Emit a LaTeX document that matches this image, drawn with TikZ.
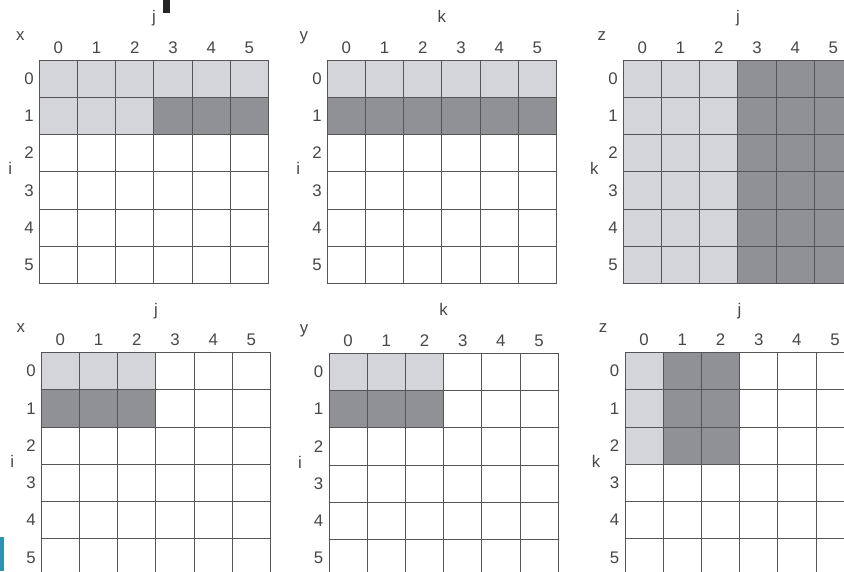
\documentclass[tikz,border=0pt]{standalone}
\usepackage{fontspec}
\setmainfont{Liberation Sans}
\definecolor{lightc}{HTML}{D3D5D8}
\definecolor{darkc}{HTML}{8F9195}
\definecolor{linec}{HTML}{555555}
\definecolor{textc}{HTML}{474747}
\definecolor{bluebar}{HTML}{2A93B8}
\tikzset{
  gridline/.style={draw=linec, line width=1.0pt},
  lab/.style={text=textc, font=\fontsize{16.8}{20}\selectfont, inner sep=0pt},
}
% #1 name, #2 ox, #3 oy, #4 corner letter, #5 corner dx, #6 top letter, #7 side letter, #8 fills
\newcommand\panel[8]{%
\begin{scope}[shift={(#2,#3)}]
\begin{scope}[x=38.2pt,y=-37.25pt]
  #8
  \foreach \i in {0,...,6} {
    \draw[gridline] (\i,0) -- (\i,6);
    \draw[gridline] (0,\i) -- (6,\i);
  }
  \foreach \c in {0,...,5} {
    \node[lab,anchor=base] (#1-c\c) at ([yshift=6.7pt]\c+0.5,0) {\c};
    \node[lab,anchor=east] (#1-r\c) at ([xshift=-5.5pt]0,\c+0.5) {\c};
  }
  \node[lab,anchor=base] (#1-top) at ([yshift=37.5pt]3,0) {#6};
  \node[lab,anchor=base] (#1-corner) at ([xshift=#5pt,yshift=20pt]0,0) {#4};
  \node[lab,anchor=base] (#1-side) at ([xshift=-29pt,yshift=-3pt]0,3) {#7};
\end{scope}
\end{scope}}
\begin{document}
\begin{tikzpicture}[x=1pt,y=-1pt]
\useasboundingbox (0,0) rectangle (844,571);
\clip (0,0) rectangle (844,571);
\fill[white] (0,0) rectangle (844,571);
% top row
\panel{tl}{39.3}{60}{x}{-19}{j}{i}{%
  \fill[lightc] (0,0) rectangle (6,1);
  \fill[lightc] (0,1) rectangle (3,2);
  \fill[darkc] (3,1) rectangle (6,2);}
\panel{tm}{327.3}{60}{y}{-23.5}{k}{i}{%
  \fill[lightc] (0,0) rectangle (6,1);
  \fill[darkc] (0,1) rectangle (6,2);}
\panel{tr}{623.3}{60}{z}{-21.5}{j}{k}{%
  \fill[lightc] (0,0) rectangle (3,6);
  \fill[darkc] (3,0) rectangle (6,6);}
% bottom row
\panel{bl}{41.3}{352.5}{x}{-20.5}{j}{i}{%
  \fill[lightc] (0,0) rectangle (3,1);
  \fill[darkc] (0,1) rectangle (3,2);}
\panel{bm}{329}{353.3}{y}{-25}{k}{i}{%
  \fill[lightc] (0,0) rectangle (3,1);
  \fill[darkc] (0,1) rectangle (3,2);}
\panel{br}{625}{352.5}{z}{-22}{j}{k}{%
  \fill[lightc] (0,0) rectangle (1,3);
  \fill[darkc] (1,0) rectangle (3,3);}
% cut-off marks at the edges
\fill[black!85] (163,0) rectangle (170,13);
\fill[bluebar] (0,537) rectangle (4,571);
\end{tikzpicture}
\end{document}
